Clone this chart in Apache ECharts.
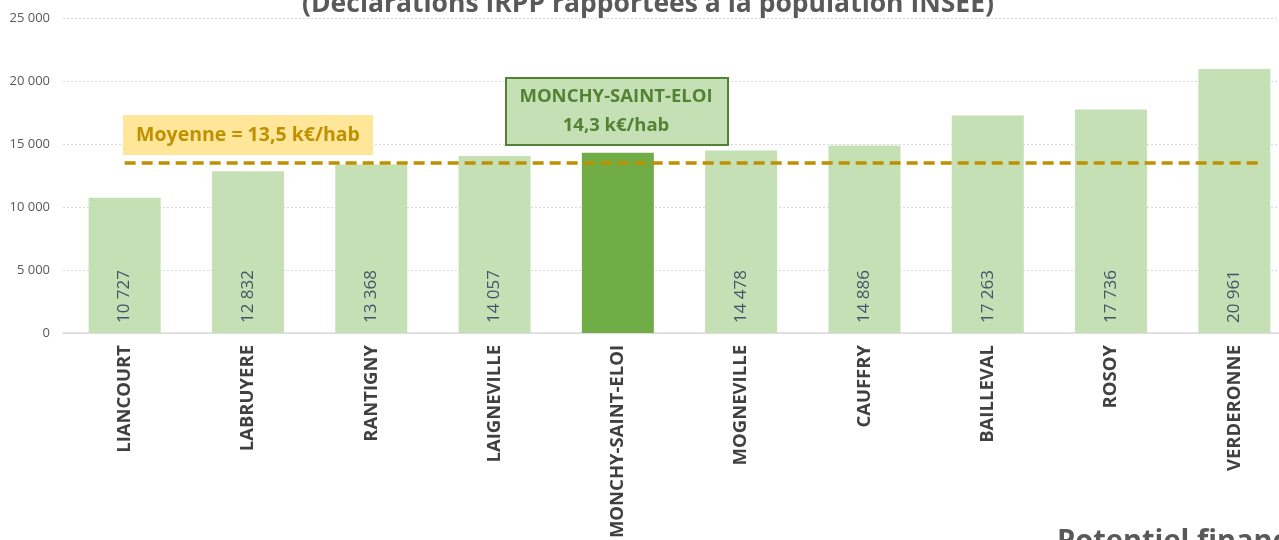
<!DOCTYPE html>
<html><head><meta charset="utf-8">
<script src="https://cdn.jsdelivr.net/npm/echarts@6/dist/echarts.min.js"></script>
<style>html,body{margin:0;padding:0;background:#fff}#c{width:1279px;height:540px}</style>
</head><body><div id="c"></div>
<script>
const communes = ['LIANCOURT','LABRUYERE','RANTIGNY','LAIGNEVILLE','MONCHY-SAINT-ELOI','MOGNEVILLE','CAUFFRY','BAILLEVAL','ROSOY','VERDERONNE'];
const values = [10727,12832,13368,14057,14300,14478,14886,17263,17736,20961];
const highlight = 'MONCHY-SAINT-ELOI';
const average = 13500;
const avgLineX = [0, 9.23];
const yTicks = [0, 5000, 10000, 15000, 20000, 25000];
const titleText = '(Déclarations IRPP rapportées à la population INSEE)';
const footerText = 'Potentiel financier';
const avgLabel = 'Moyenne = 13,5 k€/hab';
const highlightLabel = ['MONCHY-SAINT-ELOI', '14,3 k€/hab'];

const FONT = 'Open Sans';
const fmt = v => String(v).replace(/\B(?=(\d{3})+(?!\d))/g, ' ');

const chart = echarts.init(document.getElementById('c'));
chart.setOption({
  animation: false,
  textStyle: { fontFamily: FONT },
  grid: { left: 63, right: -17, top: 18, bottom: 207, containLabel: false, outerBoundsMode: 'none' },
  xAxis: [{
    type: 'category', data: communes,
    axisLine: { lineStyle: { color: '#D9D9D9', width: 1.5 } },
    axisTick: { show: false },
    axisLabel: { rotate: 90, margin: 12, fontSize: 18.5, fontWeight: 'bold', color: '#404040', fontFamily: FONT }
  }, {
    type: 'value', min: -0.5, max: 9.5, show: false
  }],
  yAxis: {
    type: 'value', min: yTicks[0], max: yTicks[yTicks.length - 1], interval: 5000,
    axisLine: { show: false }, axisTick: { show: false },
    axisLabel: { formatter: v => fmt(v), fontSize: 13, color: '#595959', margin: 13, fontFamily: FONT },
    splitLine: { lineStyle: { color: '#D9D9D9', type: [2, 2], width: 1 } }
  },
  series: [{
    type: 'bar', barWidth: 72,
    data: values.map((v, i) => ({
      value: v,
      itemStyle: { color: communes[i] === highlight ? '#70AD47' : '#C5E0B4' },
      label: { show: communes[i] !== highlight }
    })),
    label: {
      position: 'insideBottom', rotate: 90, align: 'left', verticalAlign: 'middle', distance: 10,
      formatter: p => fmt(p.value), fontSize: 17, color: '#44546A', fontFamily: FONT
    }
  }, {
    type: 'line', xAxisIndex: 1, symbol: 'none',
    data: avgLineX.map(x => [x, average]),
    lineStyle: { color: '#BF9000', width: 3.5, type: [11, 6] }, z: 5
  }],
  graphic: [
    { type: 'text', x: 648, y: 18, style: { text: titleText, font: 'bold 26.5px ' + FONT, fill: '#595959', align: 'center', verticalAlign: 'bottom' } },
    { type: 'text', x: 1057, y: 527, style: { text: footerText, font: 'bold 29px ' + FONT, fill: '#595959' } },
    { type: 'rect', left: 123, top: 115, shape: { width: 250, height: 40 }, style: { fill: '#FFE699' }, z: 10 },
    { type: 'text', x: 248, y: 135, style: { text: avgLabel, font: 'bold 19.5px ' + FONT, fill: '#BF9000', align: 'center', verticalAlign: 'middle' }, z: 11 },
    { type: 'rect', left: 505, top: 77, shape: { width: 222, height: 67 }, style: { fill: '#C5E0B4', stroke: '#548235', lineWidth: 2 }, z: 10 },
    { type: 'text', x: 616, y: 111, style: { text: highlightLabel.join('\n'), font: 'bold 18.5px ' + FONT, fill: '#548235', align: 'center', verticalAlign: 'middle', lineHeight: 29 }, z: 11 }
  ]
});
</script></body></html>
